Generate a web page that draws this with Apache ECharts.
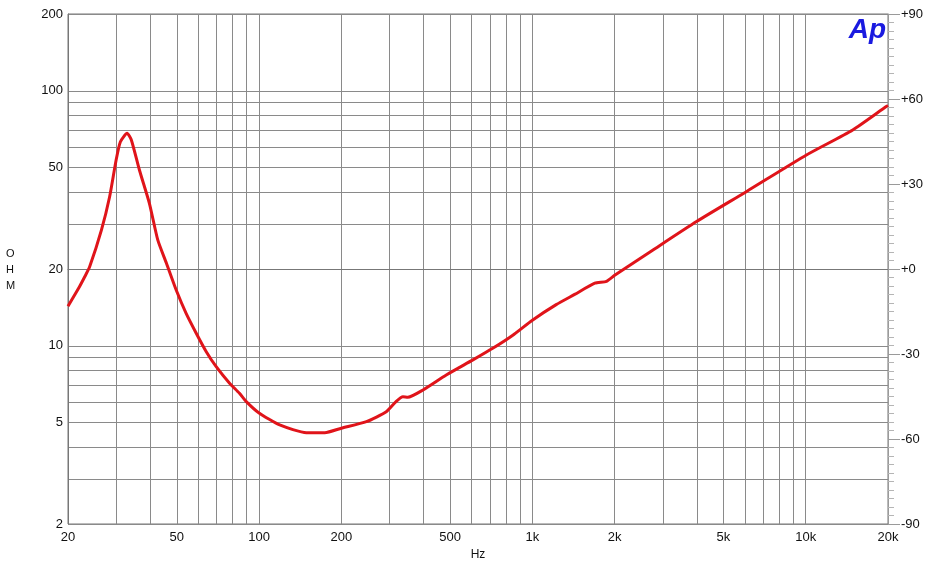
<!DOCTYPE html>
<html>
<head>
<meta charset="utf-8">
<script src="https://cdn.jsdelivr.net/npm/echarts@6.0.0/dist/echarts.min.js"></script>
<style>
  html, body { margin: 0; padding: 0; background: #fff; }
  #chart { width: 940px; height: 572px; }
</style>
</head>
<body>
<div id="chart"></div>
<script>
// Frequency (Hz) and impedance magnitude (ohm)
const freqHz = [20, 22, 23, 24, 26.5, 28.4, 30, 31.1, 32.9, 34.1, 36.5, 39.7, 42.6, 45.8, 49.8, 54.1, 58.9, 64.1, 69.7, 78, 84.8, 89.8, 100, 119, 149, 174, 200, 247, 292, 317, 336, 350, 398, 484, 606, 716, 848, 1000, 1222, 1428, 1692, 1868, 2000, 2754, 3986, 6060, 10060, 14860, 19700, 20000];
const ohms   = [14.3, 17.0, 18.6, 20.4, 28.4, 38.4, 53.5, 63.1, 68.1, 64.1, 48.9, 36.2, 26.0, 21.1, 16.5, 13.4, 11.2, 9.48, 8.28, 7.13, 6.51, 6.04, 5.45, 4.89, 4.56, 4.56, 4.75, 5.04, 5.51, 6.04, 6.31, 6.28, 6.71, 7.68, 8.80, 9.77, 11.0, 12.6, 14.5, 15.9, 17.6, 17.9, 18.9, 23.7, 30.7, 40.2, 56.0, 70.2, 86.7, 87.5];

// Axis labels and grid positions
const xLabelValues = [20, 50, 100, 200, 500, 1000, 2000, 5000, 10000, 20000];
const xGridValues  = [20, 30, 40, 50, 60, 70, 80, 90, 100, 200, 300, 400, 500, 600, 700, 800, 900, 1000, 2000, 3000, 4000, 5000, 6000, 7000, 8000, 9000, 10000, 20000];
const yLabelValues = [2, 5, 10, 20, 50, 100, 200];
const yGridValues  = [2, 3, 4, 5, 6, 7, 8, 9, 10, 20, 30, 40, 50, 60, 70, 80, 90, 100, 200];
const phaseMin = -90, phaseMax = 90, phaseStep = 30;

const chart = echarts.init(document.getElementById('chart'), null, { renderer: 'canvas' });
const fontFam = '"Liberation Sans", Arial, sans-serif';
const gridColor = '#8a8a8a';

chart.setOption({
  animation: false,
  backgroundColor: '#ffffff',
  grid: {
    left: 68, right: 52, top: 14, bottom: 48,
    show: true, borderColor: '#777777', borderWidth: 1, backgroundColor: 'transparent'
  },
  xAxis: {
    type: 'log', logBase: 10, min: 20, max: 20000,
    axisLine: { show: true, lineStyle: { color: '#777777' } },
    axisTick: { show: false, customValues: xGridValues },
    splitLine: { show: true, lineStyle: { color: gridColor, width: 1 } },
    minorSplitLine: { show: false },
    axisLabel: {
      customValues: xLabelValues,
      color: '#111', fontSize: 13, fontFamily: fontFam, margin: 7,
      formatter: v => v >= 1000 ? (v / 1000) + 'k' : String(v)
    },
    name: 'Hz', nameLocation: 'middle', nameGap: 25,
    nameTextStyle: { color: '#111', fontSize: 12, fontFamily: fontFam }
  },
  yAxis: [
    {
      type: 'log', logBase: 10, min: 2, max: 200,
      axisLine: { show: true, lineStyle: { color: '#777777' } },
      axisTick: { show: false, customValues: yGridValues },
      splitLine: { show: true, lineStyle: { color: gridColor, width: 1 } },
      axisLabel: {
        customValues: yLabelValues,
        color: '#111', fontSize: 13, fontFamily: fontFam, margin: 5
      }
    },
    {
      type: 'value', position: 'right', min: phaseMin, max: phaseMax, interval: phaseStep,
      axisLine: { show: true, lineStyle: { color: '#9a9a9a' } },
      axisTick: { show: true, inside: false, length: 12, lineStyle: { color: '#9a9a9a' } },
      minorTick: { show: true, splitNumber: 10, length: 6, lineStyle: { color: '#b5b5b5' } },
      splitLine: { show: false },
      axisLabel: {
        color: '#111', fontSize: 13, fontFamily: fontFam, margin: 13,
        formatter: v => v >= 0 ? '+' + v : String(v)
      }
    }
  ],
  series: [{
    type: 'line',
    xAxisIndex: 0, yAxisIndex: 0,
    data: freqHz.map((f, i) => [f, ohms[i]]),
    showSymbol: false, smooth: 0.2,
    lineStyle: { color: '#e0141a', width: 3 },
    z: 5
  }],
  graphic: [
    {
      type: 'text', left: 6, top: 246,
      style: { text: 'O\nH\nM', fill: '#111', font: '11px ' + fontFam, lineHeight: 16, align: 'center' }
    },
    {
      type: 'text', right: 54, top: 16,
      style: { text: 'Ap', fill: '#1a1ae0', font: 'italic bold 28px ' + fontFam }
    }
  ]
});
</script>
</body>
</html>
